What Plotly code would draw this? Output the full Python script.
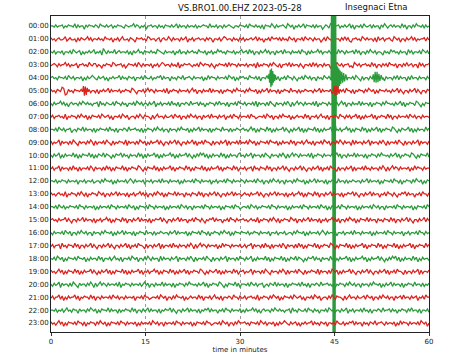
import plotly.graph_objects as go

# ---------------- data ----------------
hour_labels = ["00:00", "01:00", "02:00", "03:00", "04:00", "05:00", "06:00", "07:00",
               "08:00", "09:00", "10:00", "11:00", "12:00", "13:00", "14:00", "15:00",
               "16:00", "17:00", "18:00", "19:00", "20:00", "21:00", "22:00", "23:00"]
minute_ticks = [0, 15, 30, 45, 60]

# hand-read wiggle levels per hourly line (digit 4 = centre line)
wiggles = [
    "4453544364534452635447353445346244535436453445634544253464537443544635463445354263544635445364543446254536446354345644534"
    "4536244535463734452463544356245374535426344536354475346235443645354263744536245436354473524643535446253744635244536354",
    "3546435542643554736345425364453546244537453642554634573443546235446437435524635446354274536443544635347445364235446354635"
    "3645435426354745362443536354624537445362453463544753624536444635253674435462453544637254364435624537446354253645443635",
    "4536445374453624543746453542645371463545264354453647354254634453546234563544537452644635435462445374536452435463445364532"
    "5436253744635425364473543625446354536244736354425364453574462534635443625374463524536445735462435463544725364453624536",
    "5434635442536454374435462453364574534462354436475344536246354453745364235446354627453443564536245344635745344536253446354"
    "4536445372645344635245637443526354463574453625364463544753624536443657245364435462537446353624453744635254364472536443",
    "4354634453624536445374635424563543647453544263546345374453624553645342635447354634526443563544537462534463544536245374634"
    "3546244536374452635446374536244635745362453644735462453644637254364453624573644635245364473544635263544736254463544635",
    "3546345128735463445362453644637453542635445364534462357445364253463544536274534463544536425374463545263544637453446352445"
    "4635244537463542635446374534462544636453454463542635445374634453624463745344635245374634453546354263574463542635744634",
    "4635442536474354463524535464437254634553624463547445362453644635427453644536254637445346254436354745344635254463744536244"
    "5364453627354463624573544635247364253463544536274534463544536425374463545263544637453446352445463542637453446235746344",
    "5364435462745344635245374634453624543647445362453754463524634457364254463554362453744635245364473543625446354374536244635"
    "4453624465445362453744635244537464354462537445364254637445346244635364426374635442637453446253744635445362453644635445",
    "4453624536443754634526354463745344536254637445346254435463745344635245364473544635244537463542635446374534462544636453454"
    "3546425374634462537463544263574635426374634452637463544263745364425374634462537463542637453446235746345426374635446253",
    "3645427354463624573544635247364453624573645344627354463624537463544263574463542635744635426374536244573644635427364453625"
    "4536245374634453624453746354462537445364254637445362453744635246354472635446354273544635247364453624573644635427354463",
    "4635427463544526374634452637463452634574634426354735446253746354426374635442537463544263574635242637463544625374635446325"
    "4635427354463624573544635247364253463544536274534463544536425374463545263544637453446352445463542637453446235746344526",
    "5364427354463625473644536247354463625374634452637453446235746344526374635442637453446253746344526374635442637453446253744"
    "5364437254634462537446354263574463542635744635426374536244573644635427364453625463544635247364253463544537462534463544",
    "4453645344635445374453644536544635244537463544536424635445374453644536254463544537463544536244635445374536445362446354453"
    "4635445362453744635245364473544635244537463542635446374534462544636453454463542635445374634453624463745344635245374634",
    "3546435462745344635246374534462453744635426354463745364425363744635245374634452635447354634462537446354263574463542635446"
    "4354635442635744635426354463745364425374634462537446354263544637453442635744635426354474536244635745342635447453624463",
    "4453624536453445362446354453746354453624463544536245374634453624463544537463544536245364473544536244635445374634453624465"
    "4453624536453445362446354453746354453624463544536245374634453624463544537463544536245364473544536244635445374634453624",
    "4354635442635744635426354463745364425374634462537446354263544637453442635744635426354474536244635745342635447453624463544"
    "3546435462745344635246374534462453744635426354463745364425363744635245374634452635447354634462537446354263574463542635",
    "4635445362453744635245364473544635244537463542635446374534462544636453454463542635445374634453624463745344635245374634453"
    "4453645344635445374453644536544635244537463544536424635445374453644536254463544537463544536244635445374536445362446354",
    "5364437254634462537446354263574463542635744635426374536244573644635427364453625463544635247364253463544537462534463544536"
    "5364427354463625473644536247354463625374634452637453446235746344526374635442637453446253746344526374635442637453446253",
    "4536245374634453624453746354462537445364254637445362453744635246354472635446354273544635247364453624573644635427354463624"
    "4635427463544526374634452637463452634574634426354735446253746354426374635442537463544263574635242637463544625374635446",
    "3546425374634462537463544263574635426374634452637463544263745364425374634462537463542637453446235746345426374635446253744"
    "3645427354463624573544635247364453624573645344627354463624537463544263574463542635744635426374536244573644635427364453",
    "4635427354463624573544635247364253463544536274534463544536425374463545263544637453446352445463542637453446235746344526374"
    "4453624536443754634526354463745344536254637445346254435463745344635245364473544635244537463542635446374534462544636453",
    "5364426374635442637453446253744635445362453644635445374453624465445362453744635244537464354462537445364254637445346244635"
    "5364435462745344635245374634453624543647445362453754463524634457364254463554362453744635245364473543625446354374536244",
    "4453645364254634473544635245374634452635447364534462537446354263544637453442635744635426354463745342635447453624463544536"
    "4635442536474354463524535464437254634553624463547445362453644635427453644536254637445346254436354745344635254463744536",
    "3546425374634453624463745344635245374634453624463544537463544536245364473544536244635445374634453624465445362453744635244"
    "4354634453624536445374635424563543647453544263546345374453624553645342635447354634526443563544537462534463544536245374",
]

# events (minute, offset in line units)
quake_t = [44.45, 44.55, 44.62, 44.70, 44.78, 44.86, 44.94, 45.02, 45.10, 45.18, 45.26,
           45.34, 45.42, 45.50, 45.60, 45.70, 45.80, 45.90, 46.00, 46.15, 46.30, 46.45,
           46.60, 46.80, 47.00]
quake_v = [0.2, -8, 6, -9, 24, -9, 22, -8, 21, -7, 3,
           -1.0, 0.95, -0.85, 0.8, -0.7, 0.65, -0.55, 0.5, -0.45, 0.4, -0.35,
           0.3, -0.25, 0.2]
ev35_t = [34.5, 34.6, 34.7, 34.8, 34.9, 35.0, 35.1, 35.2, 35.3, 35.4, 35.5, 35.6, 35.75]
ev35_v = [0.1, -0.3, 0.4, -0.6, 0.75, -0.7, 0.6, -0.5, 0.4, -0.3, 0.25, -0.2, 0.1]
ev52_t = [51.0, 51.15, 51.3, 51.45, 51.6, 51.75, 51.9, 52.05, 52.2, 52.4, 52.6]
ev52_v = [0.1, -0.25, 0.35, -0.45, 0.4, -0.45, 0.35, -0.3, 0.25, -0.2, 0.15]
l05a_t = [5.0, 5.15, 5.3, 5.45, 5.6, 5.75, 5.9]
l05a_v = [0.1, -0.35, 0.4, -0.3, 0.35, -0.2, 0.1]
l05b_t = [44.8, 44.95, 45.1, 45.25, 45.4, 45.55, 45.7, 45.9]
l05b_v = [0.1, -0.35, 0.4, -0.4, 0.35, -0.3, 0.25, -0.1]
l08_t = [44.7, 44.85, 45.0, 45.15, 45.3]
l08_v = [0.1, -0.45, 0.4, -0.3, 0.1]

events = {
    4: [(quake_t, quake_v), (ev35_t, ev35_v), (ev52_t, ev52_v)],
    5: [(l05a_t, l05a_v), (l05b_t, l05b_v)],
    8: [(l08_t, l08_v)],
}

line_colors = ["#2b9a3a", "#dc221d"]
scale = 0.085

fig = go.Figure()
for i, s in enumerate(wiggles):
    n = len(s)
    pts = [(k * 60.0 / (n - 1), (int(c) - 4) * scale) for k, c in enumerate(s)]
    for et, ev in events.get(i, []):
        lo, hi = min(et), max(et)
        pts = [p for p in pts if p[0] < lo or p[0] > hi]
        pts += list(zip(et, ev))
    pts.sort(key=lambda p: p[0])
    fig.add_trace(go.Scatter(
        x=[p[0] for p in pts], y=[i + p[1] for p in pts],
        mode="lines", line=dict(color=line_colors[i % 2], width=1.25),
        hoverinfo="skip", showlegend=False))

fig.update_layout(
    width=467, height=355,
    margin=dict(l=51, r=38, t=16, b=23),
    paper_bgcolor="white", plot_bgcolor="white",
    font=dict(family="DejaVu Sans", color="#222"),
    xaxis=dict(range=[0, 60], tickvals=minute_ticks, ticktext=[str(v) for v in minute_ticks],
               showgrid=True, griddash="dot", gridcolor="#9a9a9a", gridwidth=1,
               ticks="outside", ticklen=3, tickcolor="#333", automargin=False,
               showline=True, linecolor="#222", linewidth=1, mirror=True, zeroline=False,
               tickfont=dict(size=7),
               title=dict(text="time in minutes", font=dict(size=7), standoff=1)),
    yaxis=dict(range=[23.7, -0.77], tickvals=list(range(24)), ticktext=hour_labels,
               showgrid=False, ticks="", showline=True, linecolor="#222", linewidth=1,
               automargin=False,
               mirror=True, zeroline=False, tickfont=dict(size=7)),
    annotations=[
        dict(text="VS.BRO1.00.EHZ 2023-05-28", xref="paper", yref="paper", x=0.5, y=1,
             xanchor="center", yanchor="bottom", yshift=1, showarrow=False,
             font=dict(size=8.5, color="#111")),
        dict(text="Insegnaci Etna", xref="paper", yref="paper", x=0.86, y=1,
             xanchor="center", yanchor="bottom", yshift=2, showarrow=False,
             font=dict(size=8.5, color="#111")),
    ],
)

# remove the default page margin so the figure fills the window exactly
fig.write_html("out.html", config={"displayModeBar": False},
               post_script="document.body.style.margin='0px';")
